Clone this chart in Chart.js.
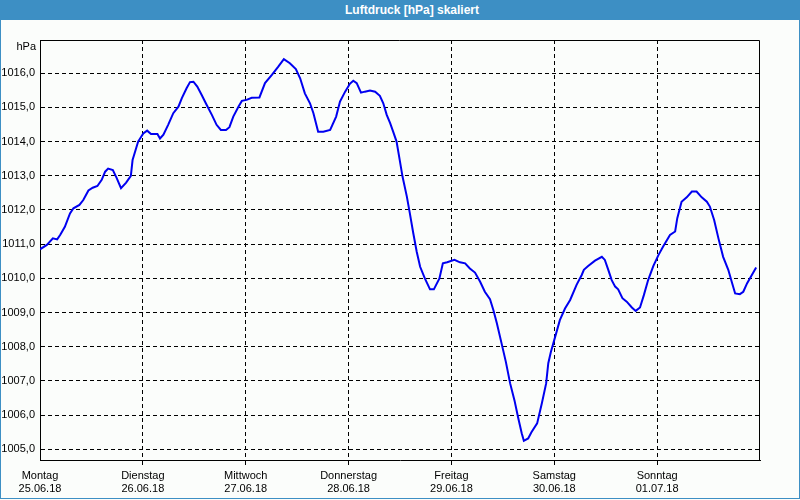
<!DOCTYPE html>
<html>
<head>
<meta charset="utf-8">
<script src="https://cdn.jsdelivr.net/npm/chart.js@4/dist/chart.umd.min.js"></script>
<style>
html,body{margin:0;padding:0;}
body{width:800px;height:500px;position:relative;background:#fbfdfb;overflow:hidden;font-family:"Liberation Sans",Arial,sans-serif;}
#bar{position:absolute;left:0;top:0;width:800px;height:20px;background:#3d8fc4;color:#fff;font-weight:bold;font-size:12px;line-height:20px;z-index:2;}
#bar span{position:absolute;left:412px;transform:translateX(-50%);white-space:nowrap;}
#frame{position:absolute;left:0;top:0;width:798px;height:498px;border:1px solid #3d8fc4;border-top:none;z-index:1;pointer-events:none;}
#c{position:absolute;left:0;top:0;}
</style>
</head>
<body>
<div id="bar"><span>Luftdruck [hPa] skaliert</span></div>
<div id="frame"></div>
<canvas id="c" width="800" height="500"></canvas>
<script>
// Day labels (x axis ticks every 24 h)
const dayHours = [0, 24, 48, 72, 96, 120, 144];
const dayNames = ['Montag', 'Dienstag', 'Mittwoch', 'Donnerstag', 'Freitag', 'Samstag', 'Sonntag'];
const dayDates = ['25.06.18', '26.06.18', '27.06.18', '28.06.18', '29.06.18', '30.06.18', '01.07.18'];
const yTicks = [1005, 1006, 1007, 1008, 1009, 1010, 1011, 1012, 1013, 1014, 1015, 1016];

// Hours since Monday 25.06.18 00:00
const hours = [0,1.6,3,4,4.7,5.8,7,7.8,9.2,10.1,
11.3,12.3,13.4,14.4,15.2,15.9,17,17.9,18.9,20.1,
21.2,21.6,22.2,22.9,24.1,25,25.9,27.4,28,28.8,
29.9,31.1,32.3,33.1,34.2,35,35.8,36.7,37.7,38.9,
40.1,41.2,42.2,43.4,44.2,45.1,46.3,47.1,48.2,49.4,
51.2,52.5,54.1,55.6,56.9,58.3,59.7,60.7,61.8,63,
63.8,64.9,66.1,67.7,69.1,70,71.2,72.3,73.1,73.9,
74.9,75.8,77,78.2,79.3,80.1,80.9,81.7,82.4,83.2,
83.8,84.6,85.6,86.3,87.1,87.9,88.7,89.8,91,91.9,
93.2,94,95,96.7,98,99.2,100.3,101.5,102.7,103.8,
105,105.8,106.6,107.7,108.7,109.7,110.7,111.6,112.4,112.9,
113.9,114.7,116,117.1,118.1,118.6,119.2,120.2,121.3,122.5,
123.7,125.2,126.4,126.9,127.9,129.5,131.1,131.8,132.6,133.4,
134.2,134.9,135.9,136.9,138.1,139,140,140.9,141.9,143.1,
144.3,145.4,147,148.2,148.7,149.7,150.9,152.1,153.2,154.4,
155.6,156.3,157.3,158.3,159.4,160.6,161.4,162.2,163.3,164.1,
165,166.1,167.1];

// Air pressure in hPa
const pressure = [1010.85,1010.98,1011.17,1011.14,1011.27,1011.51,1011.90,1012.05,1012.15,1012.29,
1012.57,1012.65,1012.70,1012.88,1013.12,1013.21,1013.17,1012.93,1012.64,1012.80,
1013.00,1013.46,1013.71,1014.00,1014.24,1014.32,1014.22,1014.22,1014.09,1014.20,
1014.49,1014.83,1015.02,1015.27,1015.56,1015.74,1015.75,1015.61,1015.37,1015.07,
1014.78,1014.49,1014.34,1014.34,1014.42,1014.73,1015.02,1015.19,1015.22,1015.28,
1015.29,1015.71,1015.95,1016.19,1016.41,1016.29,1016.12,1015.85,1015.41,1015.12,
1014.83,1014.29,1014.29,1014.34,1014.73,1015.17,1015.46,1015.69,1015.78,1015.71,
1015.43,1015.46,1015.49,1015.46,1015.34,1015.12,1014.78,1014.54,1014.29,1014.00,
1013.56,1012.97,1012.39,1011.90,1011.32,1010.78,1010.34,1010.00,1009.68,1009.68,
1010.00,1010.44,1010.47,1010.54,1010.47,1010.44,1010.29,1010.17,1009.90,1009.61,
1009.39,1009.07,1008.69,1008.10,1007.56,1006.93,1006.44,1005.91,1005.47,1005.25,
1005.32,1005.51,1005.76,1006.35,1006.93,1007.52,1007.85,1008.29,1008.78,1009.12,
1009.37,1009.81,1010.10,1010.25,1010.36,1010.52,1010.63,1010.54,1010.25,1009.95,
1009.76,1009.68,1009.42,1009.32,1009.15,1009.05,1009.15,1009.51,1009.95,1010.36,
1010.68,1010.93,1011.27,1011.37,1011.76,1012.24,1012.37,1012.54,1012.54,1012.37,
1012.24,1012.10,1011.71,1011.17,1010.63,1010.25,1009.90,1009.56,1009.54,1009.61,
1009.86,1010.10,1010.32];

const FONT = { family: '"Liberation Sans", Arial, sans-serif', size: 11 };

const framePlugin = {
  id: 'frame',
  afterDraw(chart) {
    const { ctx, chartArea: a } = chart;
    ctx.save();
    ctx.strokeStyle = '#000';
    ctx.lineWidth = 1;
    ctx.beginPath();
    ctx.moveTo(a.left, a.top + 0.5);
    ctx.lineTo(a.right - 0.5, a.top + 0.5);
    ctx.lineTo(a.right - 0.5, a.bottom);
    ctx.stroke();
    ctx.fillStyle = '#000';
    ctx.font = '11px "Liberation Sans", Arial, sans-serif';
    ctx.textAlign = 'right';
    ctx.textBaseline = 'middle';
    ctx.fillText('hPa', 36, 47);
    ctx.restore();
  }
};

new Chart(document.getElementById('c'), {
  type: 'line',
  data: {
    datasets: [{
      data: hours.map((h, i) => ({ x: h, y: pressure[i] })),
      borderColor: '#0000f0',
      borderWidth: 2,
      pointRadius: 0,
      tension: 0,
      fill: false
    }]
  },
  options: {
    responsive: false,
    animation: false,
    layout: { padding: { left: 0, top: 40, right: 40, bottom: 0 } },
    plugins: { legend: { display: false }, title: { display: false }, tooltip: { enabled: false } },
    scales: {
      x: {
        type: 'linear',
        min: 0,
        max: 168,
        afterBuildTicks: s => { s.ticks = dayHours.map(v => ({ value: v })); },
        afterFit: s => { s.height = 40; },
        ticks: {
          autoSkip: false,
          maxRotation: 0,
          padding: 4,
          color: '#000',
          font: FONT,
          callback: (v, i) => [dayNames[i], dayDates[i]]
        },
        grid: {
          color: c => (c.tick && c.tick.value === 0) ? 'rgba(0,0,0,0)' : '#000',
          lineWidth: 1,
          drawTicks: true,
          tickLength: 5
        },
        border: { display: true, color: '#000', width: 1, dash: [4, 3] }
      },
      y: {
        min: 1004.69,
        max: 1016.97,
        afterBuildTicks: s => { s.ticks = yTicks.map(v => ({ value: v })); },
        afterFit: s => { s.width = 40; },
        ticks: {
          padding: 5,
          color: '#000',
          font: FONT,
          callback: v => v.toFixed(1).replace('.', ',')
        },
        grid: { color: '#000', lineWidth: 1, drawTicks: false },
        border: { display: true, color: '#000', width: 1, dash: [4, 3] }
      }
    }
  },
  plugins: [framePlugin]
});
</script>
</body>
</html>
